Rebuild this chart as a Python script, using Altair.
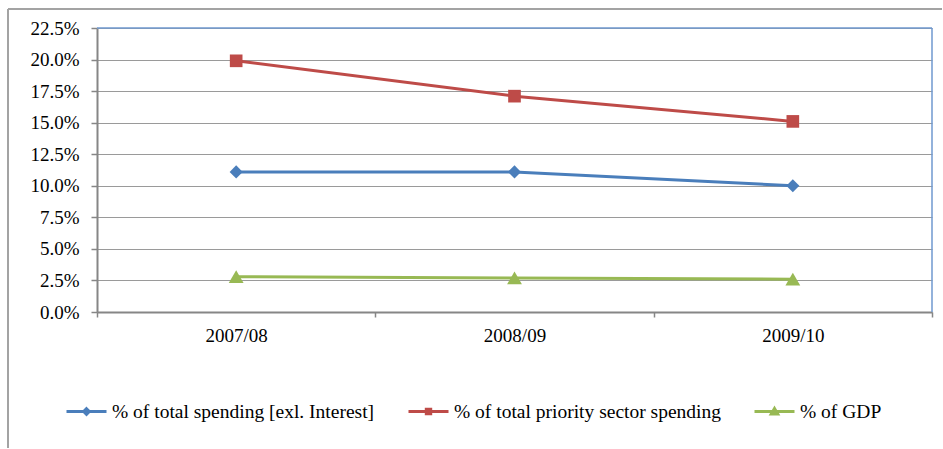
import altair as alt
import pandas as pd

years = ["2007/08", "2008/09", "2009/10"]
series = [
    "% of total spending [exl. Interest]",
    "% of total priority sector spending",
    "% of GDP",
]
total_spending = [11.1, 11.1, 10.0]
priority_spending = [19.9, 17.1, 15.1]
gdp_share = [2.8, 2.7, 2.6]
y_ticks = [0, 2.5, 5, 7.5, 10, 12.5, 15, 17.5, 20, 22.5]

colors = ["#4a7ebb", "#be4b48", "#98b954"]
marker_shapes = ["diamond", "square", "triangle-up"]
marker_sizes = [170, 160, 220]
legend_paths = [
    "M-1,0H1M0,-0.14L0.14,0L0,0.14L-0.14,0Z",
    "M-1,0H1M-0.11,-0.11H0.11V0.11H-0.11Z",
    "M-1,0H1M0,-0.15L0.16,0.12H-0.16Z",
]

rows = []
for name, vals in zip(series, [total_spending, priority_spending, gdp_share]):
    for yr, v in zip(years, vals):
        rows.append({"year": yr, "value": v, "series": name})
df = pd.DataFrame(rows)
deco = pd.DataFrame({"k": [0]})

W, H = 835, 284
SERIF = "Liberation Serif"
AXIS_GRAY = "#868686"
FRAME_GRAY = "#a3a3a3"

x_enc = alt.X(
    "year:N",
    sort=years,
    scale=alt.Scale(type="band", paddingInner=0, paddingOuter=0),
    axis=alt.Axis(
        title=None, labelAngle=0, tickBand="extent", ticks=True, tickSize=5,
        tickColor=AXIS_GRAY, tickWidth=1.5, domainColor=AXIS_GRAY, domainWidth=2,
        labelFont=SERIF, labelFontSize=19, labelColor="#000000", labelPadding=9,
        grid=False,
    ),
)
y_enc = alt.Y(
    "value:Q",
    scale=alt.Scale(domain=[0, 22.5], nice=False, zero=True),
    axis=alt.Axis(
        title=None, values=y_ticks, labelExpr="format(datum.value, '.1f') + '%'",
        tickSize=6, tickColor=AXIS_GRAY, tickWidth=1.5, domainColor=AXIS_GRAY,
        domainWidth=2, labelFont=SERIF, labelFontSize=19, labelColor="#000000",
        labelPadding=12, grid=True, gridColor="#9a9a9a", gridWidth=1.2,
    ),
)

frame_top = alt.Chart(deco).mark_rule(color=FRAME_GRAY, strokeWidth=2).encode(
    x=alt.value(-89), x2=alt.value(845), y=alt.value(-19)
)
frame_left = alt.Chart(deco).mark_rule(color=FRAME_GRAY, strokeWidth=2).encode(
    x=alt.value(-89), y=alt.value(-19), y2=alt.value(420)
)

series_layers = []
for name, col in zip(series, colors):
    base = alt.Chart(df).transform_filter(alt.datum.series == name)
    series_layers.append(base.mark_line(strokeWidth=3, color=col).encode(x=x_enc, y=y_enc))
for name, col, shp, sz in zip(series, colors, marker_shapes, marker_sizes):
    base = alt.Chart(df).transform_filter(alt.datum.series == name)
    series_layers.append(
        base.mark_point(shape=shp, filled=True, size=sz, opacity=1, color=col).encode(x=x_enc, y=y_enc)
    )

top_border = alt.Chart(deco).mark_rule(color="#6f98cf", strokeWidth=1.5).encode(
    x=alt.value(0), x2=alt.value(W), y=alt.value(0)
)
right_border = alt.Chart(deco).mark_rule(color="#6f98cf", strokeWidth=1.5).encode(
    x=alt.value(W), y=alt.value(0), y2=alt.value(H)
)

leg = alt.Legend(
    title=None, orient="none", legendX=-32, legendY=362, direction="horizontal",
    symbolSize=1600, symbolStrokeWidth=3, symbolOpacity=1,
    labelFont=SERIF, labelFontSize=19.5, labelColor="#000000", labelOffset=4,
    columnPadding=27, labelLimit=400,
)
legend_layer = (
    alt.Chart(df)
    .mark_point(filled=True, opacity=0, strokeWidth=3, size=1)
    .encode(
        x=x_enc, y=y_enc,
        fill=alt.Fill("series:N", scale=alt.Scale(domain=series, range=colors), legend=leg),
        stroke=alt.Stroke("series:N", scale=alt.Scale(domain=series, range=colors), legend=leg),
        shape=alt.Shape("series:N", scale=alt.Scale(domain=series, range=legend_paths), legend=leg),
    )
)

chart = (
    alt.layer(frame_top, frame_left, *series_layers, top_border, right_border, legend_layer)
    .properties(
        width=W, height=H,
        padding={"left": 7, "top": 8, "right": 0, "bottom": 0},
        background="white",
    )
    .configure_view(stroke=None)
)

chart.save("out.html", embed_options={"renderer": "svg", "actions": False})
